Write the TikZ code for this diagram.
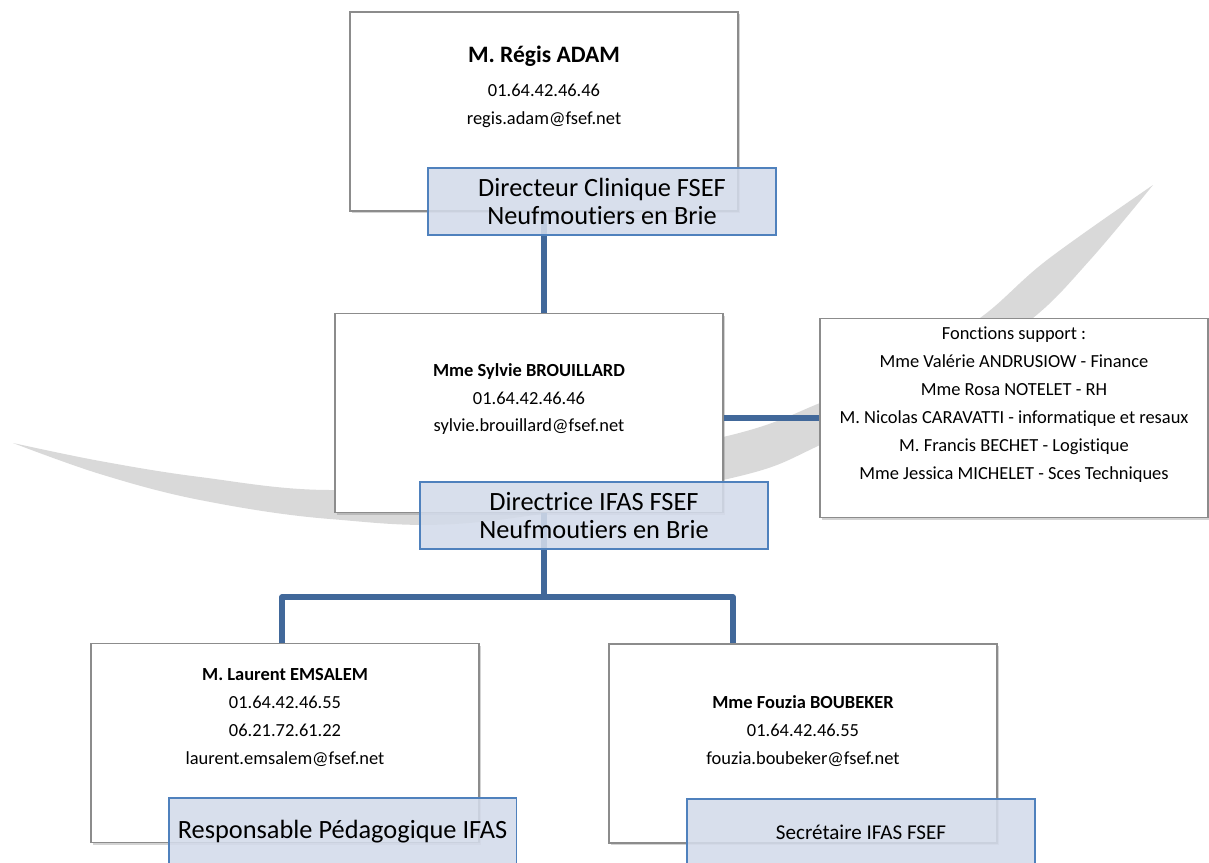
\documentclass[tikz,border=0pt]{standalone}
\usepackage{fontspec}
\setmainfont{Carlito}[Ligatures=NoCommon]
\usepackage{tikz}
\usetikzlibrary{positioning,calc,shadows}

\definecolor{lienbleu}{RGB}{65,104,154}
\definecolor{cadrebleu}{RGB}{79,129,189}
\definecolor{fondbleu}{RGB}{211,219,234}
\definecolor{gris}{RGB}{217,217,217}

\begin{document}
\begin{tikzpicture}[
            x=0.02cm, y=-0.02cm,
            % Carte blanche avec ombre portée
            carte/.style={
                draw=black!45,
                line width=0.8pt,
                fill=white,
                minimum width=7.76cm,
                minimum height=3.98cm,
                inner sep=0pt,
                drop shadow={shadow xshift=1.3pt, shadow yshift=-1.3pt, opacity=0.35}
            },
            % Texte des cartes
            infos/.style={
                align=center,
                inner sep=0pt,
                anchor=north,
                font=\fontsize{10.5}{15.9}\selectfont
            },
            % Bandeau de fonction (bleu, un peu transparent)
            titre/.style={
                draw=cadrebleu,
                line width=1.1pt,
                fill=fondbleu,
                fill opacity=0.88,
                text opacity=1,
                minimum width=6.96cm,
                minimum height=1.34cm,
                align=center,
                font=\fontsize{15}{16.4}\selectfont
            },
            % Traits de liaison
            lien/.style={
                draw=lienbleu,
                line width=2.9pt,
                line join=round
            }
        ]
            \useasboundingbox (0,0) rectangle (1209,862);
            \clip (0,0) rectangle (1209,862);

            % --- FOND : VIRGULE GRISE ---
            \fill[gris] plot[smooth, tension=0.6] coordinates {(13,443) (100,474) (200,500) (330,519) (480,522) (723,480) (820,445) (950,373) (1033,318) (1090,260) (1153,185)}
                -- plot[smooth, tension=0.6] coordinates {(1153,185) (1047,260) (980,318) (900,366) (820,403) (723,437) (500,478) (330,490) (200,477) (100,461) (13,443)} -- cycle;

            % --- NIVEAU 1 : DIRECTEUR ---
            \node[carte] (adam) at (544,111.5) {};
            \node[infos] (adamtxt) at ($(adam.north)+(0,34)$)
                {{\fontsize{13.4}{16}\selectfont\bfseries M. Régis ADAM}\\[3.4pt]
                 01.64.42.46.46\\regis.adam@fsef.net};

            % --- NIVEAU 2 : DIRECTRICE + FONCTIONS SUPPORT ---
            \node[carte] (brouillard) at (529,413) {};
            \node[infos] (brouillardtxt) at ($(brouillard.north)+(0,50)$)
                {\textbf{Mme Sylvie BROUILLARD}\\01.64.42.46.46\\sylvie.brouillard@fsef.net};

            \node[carte] (support) at (1014,418) {};
            \node[infos] (supporttxt) at ($(support.north)+(0,9)$)
                {Fonctions support :\\Mme Valérie ANDRUSIOW - Finance\\Mme Rosa NOTELET - RH\\
                 M. Nicolas CARAVATTI - informatique et resaux\\M. Francis BECHET - Logistique\\
                 Mme Jessica MICHELET - Sces Techniques};

            % --- NIVEAU 3 : EQUIPE IFAS ---
            \node[carte] (emsalem) at (285,743) {};
            \node[infos] (emsalemtxt) at ($(emsalem.north)+(0,25)$)
                {\textbf{M. Laurent EMSALEM}\\01.64.42.46.55\\06.21.72.61.22\\laurent.emsalem@fsef.net};

            \node[carte] (boubeker) at (803,743.5) {};
            \node[infos] (boubekertxt) at ($(boubeker.north)+(0,52)$)
                {\textbf{Mme Fouzia BOUBEKER}\\01.64.42.46.55\\fouzia.boubeker@fsef.net};

            % --- LIAISONS ---
            \coordinate (tronc) at (544,597);
            \coordinate (brancheG) at (282,597);
            \coordinate (brancheD) at (733,597);

            \draw[lien] (adam.south) -- (adam.south |- brouillard.north);
            \draw[lien] (brouillard.east |- support.west) -- (support.west);
            \draw[lien] (adam.south |- brouillard.south) -- (tronc);
            \draw[lien] (emsalem.north -| brancheG) -- (brancheG) -- (brancheD) -- (boubeker.north -| brancheD);

            % --- BANDEAUX DE FONCTION ---
            \node[titre] (titre1) at (602,201.5) {Directeur Clinique FSEF\\Neufmoutiers en Brie};
            \node[titre] (titre2) at (594,515.5) {Directrice IFAS FSEF\\Neufmoutiers en Brie};
            \node[titre] (titre3) at (342.5,831.5) {Responsable Pédagogique IFAS};
            \node[titre, font=\fontsize{12}{14}\selectfont] (titre4) at (861,832.5) {Secrétaire IFAS FSEF};

        \end{tikzpicture}
\end{document}
